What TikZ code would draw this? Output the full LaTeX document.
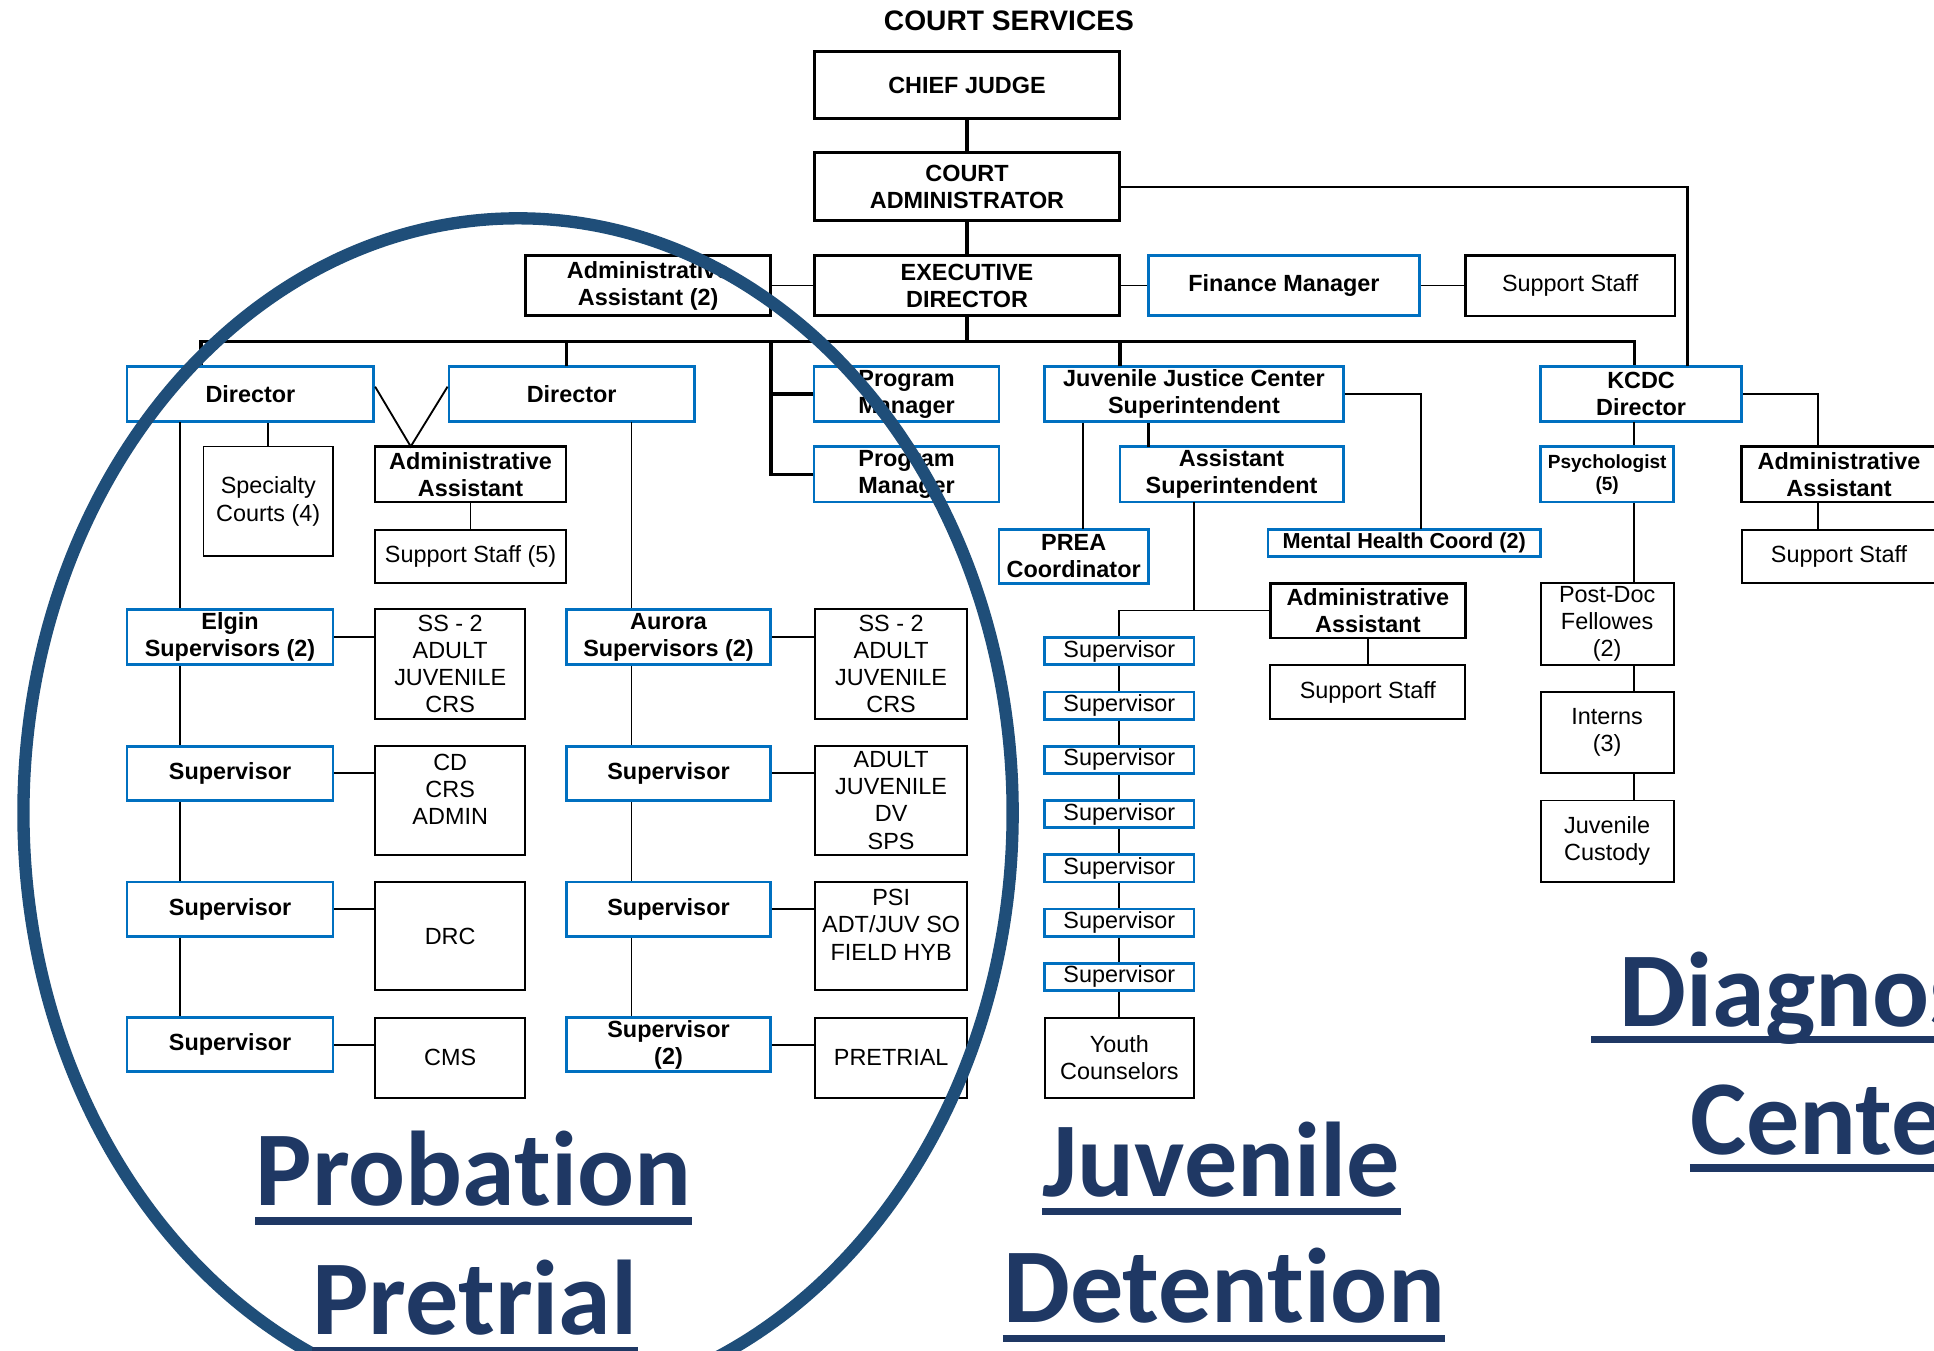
\documentclass[tikz,border=0pt]{standalone}
\usepackage{fontspec}
\setmainfont{Liberation Sans}
\newfontfamily\titlefont{Carlito}[Ligatures=NoCommon]
\definecolor{roleblue}{RGB}{0,112,192}
\definecolor{ringblue}{RGB}{31,78,121}
\definecolor{titlenavy}{RGB}{31,56,100}

\begin{document}
\begin{tikzpicture}[x=0.2mm, y=-0.2mm,
  every node/.style={font=\fontsize{10.8}{12.5}\selectfont, inner sep=0pt, align=center},
  sz/.style 2 args={minimum width=#1*0.2mm, minimum height=#2*0.2mm},
  headbox/.style={draw, line width=1.4pt, fill=white, font=\fontsize{10.8}{12.5}\selectfont\bfseries},
  bluebox/.style={draw=roleblue, line width=1.3pt, fill=white, font=\fontsize{10.8}{12.5}\selectfont\bfseries},
  bluethin/.style={draw=roleblue, line width=1.3pt, fill=white},
  boldbox/.style={draw, line width=1.1pt, fill=white, font=\fontsize{10.8}{12.5}\selectfont\bfseries},
  plainbox/.style={draw, line width=0.9pt, fill=white},
  link/.style={line width=0.85pt},
  buslink/.style={line width=1.5pt},
  ring/.style={draw=ringblue, line width=2mm},
  bigtitle/.style={text=titlenavy, anchor=base west, font=\titlefont\fontsize{49}{51}\selectfont\bfseries},
  uline/.style={draw=titlenavy, line width=3.4pt}
]
\useasboundingbox (0,0) rectangle (1568,1095);
\clip (0,0) rectangle (1568,1095);

% top of the chart
\node[font=\fontsize{13}{15}\selectfont\bfseries] (court) at (818,17) {COURT SERVICES};
\node[headbox, sz={248}{54}] (cj) at (784,69) {CHIEF JUDGE};
\node[headbox, sz={248}{55}] (ca) at (784,151.5) {COURT\\ADMINISTRATOR};
\node[headbox, sz={248}{49}] (ed) at (784,231.5) {EXECUTIVE\\DIRECTOR};
\node[headbox, sz={199}{49}] (aa2) at (525.5,231.5) {Administrative\\Assistant (2)};
\node[bluebox, sz={220}{49}] (fin) at (1041,231.5) {Finance Manager};
\node[plainbox, sz={170}{49}, line width=1.1pt] (sstop) at (1273,231.5) {Support Staff};

% second row
\node[bluebox, sz={200}{45}] (dirA) at (203,319.5) {Director};
\node[bluebox, sz={199}{45}] (dirB) at (463.5,319.5) {Director};
\node[bluebox, sz={150}{45}] (pm1) at (735,319.5) {Program\\Manager};
\node[bluebox, sz={150}{45}] (pm2) at (735,384.5) {Program\\Manager};
\node[bluebox, sz={242}{45}] (jjc) at (968,319.5) {Juvenile Justice Center\\Superintendent};
\node[bluebox, sz={163}{45}] (kcdc) at (1330.5,319.5) {KCDC\\Director};

% probation and pretrial
\node[plainbox, sz={105}{89}] (spc) at (217.5,406.5) {Specialty\\Courts (4)};
\node[boldbox, sz={155}{45}] (aaP) at (381.5,384.5) {Administrative\\Assistant};
\node[plainbox, sz={155}{43}] (ssP) at (381.5,451.5) {Support Staff (5)};

\node[bluebox, sz={167}{45}] (elg) at (186.5,516.5) {Elgin\\Supervisors (2)};
\node[bluebox, sz={167}{44}] (supA1) at (186.5,627) {Supervisor};
\node[bluebox, sz={167}{44}] (supA2) at (186.5,737) {Supervisor};
\node[bluebox, sz={167}{44}] (supA3) at (186.5,847) {Supervisor};
\node[plainbox, sz={122}{89}] (ssA) at (365,538.5) {SS - 2\\ADULT\\JUVENILE\\CRS};
\node[plainbox, sz={122}{88}] (cdA) at (365,649) {CD\\CRS\\ADMIN\\[-5.7pt]\strut};
\node[plainbox, sz={122}{88}] (drc) at (365,759) {DRC};
\node[plainbox, sz={122}{65}] (cms) at (365,857.5) {CMS};

\node[bluebox, sz={166}{45}] (aur) at (542,516.5) {Aurora\\Supervisors (2)};
\node[bluebox, sz={166}{44}] (supB1) at (542,627) {Supervisor};
\node[bluebox, sz={166}{44}] (supB2) at (542,737) {Supervisor};
\node[bluebox, sz={166}{44}] (supB3) at (542,847) {Supervisor\\(2)};
\node[plainbox, sz={123}{89}] (ssB) at (722.5,538.5) {SS - 2\\ADULT\\JUVENILE\\CRS};
\node[plainbox, sz={123}{88}] (adB) at (722.5,649) {ADULT\\JUVENILE\\DV\\SPS};
\node[plainbox, sz={123}{88}] (psiB) at (722.5,759) {PSI\\ADT/JUV SO\\FIELD HYB\\[-5.7pt]\strut};
\node[plainbox, sz={123}{65}] (preB) at (722.5,857.5) {PRETRIAL};

% juvenile detention
\node[bluebox, sz={181}{45}] (asup) at (998.5,384.5) {Assistant\\Superintendent};
\node[bluebox, sz={121}{44}] (prea) at (870.5,451) {PREA\\Coordinator};
\node[bluebox, sz={221}{22}, font=\fontsize{10}{11}\selectfont\bfseries] (mhc) at (1138.5,440) {Mental Health Coord (2)};
\node[boldbox, sz={158}{44}] (jdaa) at (1109,495) {Administrative\\Assistant};
\node[plainbox, sz={158}{44}] (jdss) at (1109,561) {Support Staff};
\foreach \i/\y in {1/528,2/572,3/616,4/660,5/704,6/748,7/792}
  \node[bluethin, sz={121}{22}] (jds\i) at (907.5,\y) {Supervisor};
\node[plainbox, sz={121}{65}] (youth) at (907.5,857.5) {Youth\\Counselors};

% diagnostic center
\node[bluebox, sz={108}{45}, font=\fontsize{8.8}{10.2}\selectfont\bfseries] (psy) at (1303,384.5) {Psychologist\\(5)};
\node[boldbox, sz={158}{45}] (kaa) at (1491,384.5) {Administrative\\Assistant};
\node[plainbox, sz={158}{43}] (kss) at (1491,451.5) {Support Staff};
\node[plainbox, sz={108}{66}] (pdoc) at (1303,506) {Post-Doc\\Fellowes\\(2)};
\node[plainbox, sz={108}{66}] (intr) at (1303,594) {Interns\\(3)};
\node[plainbox, sz={108}{66}] (cust) at (1303,682) {Juvenile\\Custody};

% junction points
\coordinate (busL) at (163,277);
\coordinate (busR) at (1325,277);
\coordinate (dropB) at (459,297);
\coordinate (pmx) at (625,277);
\coordinate (dropJ) at (908,297);
\coordinate (kTop) at (1368,297);
\coordinate (vTip) at (333,362);
\coordinate (colA) at (146,342);
\coordinate (colB) at (512,342);
\coordinate (mhcTop) at (1152,429);
\coordinate (preaX) at (878,429);
\coordinate (asupX) at (931,362);
\coordinate (colJ) at (968,407);
\coordinate (kaaX) at (1474,362);
\coordinate (colK) at (1325,342);

% connectors
\draw[buslink] (cj) -- (ca);
\draw[buslink] (ca) -- (ed);
\draw[link] (aa2) -- (ed);
\draw[link] (ed) -- (fin);
\draw[link] (fin) -- (sstop);
\draw[link, line width=1.1pt] (ca.east) -| (kTop);
\draw[buslink] (ed.south) -- (ed.south |- busL);
\draw[buslink] (busL |- dirA.north) -- (busL) -- (busR) -- (busR |- kcdc.north);
\draw[buslink] (dropB) -- (dropB |- busL);
\draw[buslink] (dropJ) -- (dropJ |- busL);
\draw[buslink] (pmx) |- (pm2.west);
\draw[buslink] (pmx |- pm1.west) -- (pm1.west);

\draw[link] ([yshift=1.2mm]dirA.east) -- (vTip) -- ([yshift=1.2mm]dirB.west);
\draw[link] (spc.north) -- (spc.north |- dirA.south);
\draw[link] (aaP) -- (ssP);
\draw[link] (colA) -- (colA |- elg.north);
\draw[link] (colB) -- (colB |- aur.north);
\foreach \a/\b in {elg/supA1, supA1/supA2, supA2/supA3}
  \draw[link] (colA |- \a.south) -- (colA |- \b.north);
\foreach \a/\b in {aur/supB1, supB1/supB2, supB2/supB3}
  \draw[link] (colB |- \a.south) -- (colB |- \b.north);
\foreach \a/\b in {elg/ssA, supA1/cdA, supA2/drc, supA3/cms, aur/ssB, supB1/adB, supB2/psiB, supB3/preB}
  \draw[link] (\a.east) -- (\a.east -| \b.west);

\draw[link] (jjc.east) -| (mhcTop);
\draw[link] (preaX) -- (preaX |- jjc.south);
\draw[link, line width=1.2pt] (asupX) -- (asupX |- jjc.south);
\draw[link] (colJ) -- (colJ |- jdaa.west);
\draw[link] (jds1.north) |- (jdaa.west);
\draw[link] (jdaa) -- (jdss);
\foreach \a/\b in {jds1/jds2, jds2/jds3, jds3/jds4, jds4/jds5, jds5/jds6, jds6/jds7, jds7/youth}
  \draw[link] (\a.south) -- (\b.north);

\draw[link] (kcdc.east) -| (kaaX);
\draw[link] (kaaX |- kaa.south) -- (kaaX |- kss.north);
\draw[link] (colK) -- (colK |- psy.north);
\foreach \a/\b in {psy/pdoc, pdoc/intr, intr/cust}
  \draw[link] (colK |- \a.south) -- (colK |- \b.north);

% ring round probation
\draw[ring] (420,659) ellipse [x radius=80.2mm, y radius=96.4mm];

% section titles
\node[bigtitle] (prob) at (207,977) {Probation};
\node[bigtitle] (pret) at (253,1082) {Pretrial};
\node[bigtitle] (juv) at (845,970) {Juvenile};
\node[bigtitle] (det) at (813,1072) {Detention};
\node[bigtitle] (diag) at (1313,832) {Diagnostic};
\node[bigtitle] (cent) at (1370,936) {Center};
\draw[uline] ([yshift=-2.6mm]prob.base west) -- ([yshift=-2.6mm]prob.base east);
\draw[uline] ([yshift=-2.6mm]pret.base west) -- ([yshift=-2.6mm]pret.base east);
\draw[uline] ([yshift=-2.4mm]juv.base west) -- ([yshift=-2.4mm]juv.base east);
\draw[uline] ([yshift=-2.6mm]det.base west) -- ([yshift=-2.6mm]det.base east);
\draw[uline] ([xshift=-4.6mm,yshift=-2.2mm]diag.base west) -- ([yshift=-2.2mm]diag.base east);
\draw[uline] ([yshift=-2.2mm]cent.base west) -- ([yshift=-2.2mm]cent.base east);
\end{tikzpicture}
\end{document}
